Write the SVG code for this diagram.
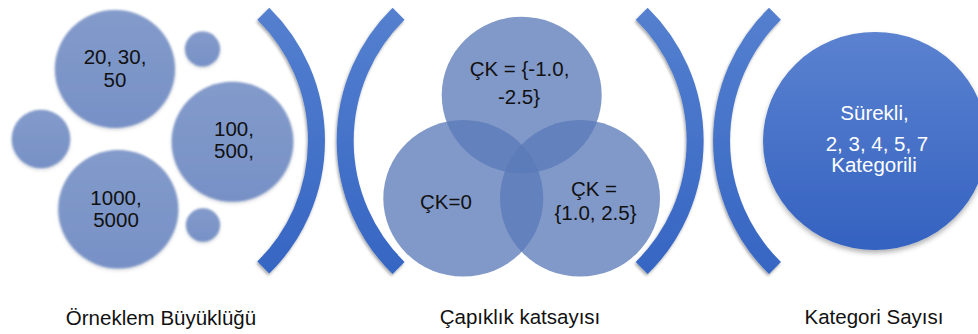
<svg xmlns="http://www.w3.org/2000/svg" width="978" height="334" viewBox="0 0 978 334">
  <style>
    text { font-family: "Liberation Sans", Arial, sans-serif; font-size: 20.5px; text-anchor: middle; }
    .dark { fill: #111111; }
    .light { fill: #ffffff; }
    .bubble { fill: url(#bubbleGrad); filter: url(#soft); }
    .venn { fill: #5a79b8; fill-opacity: 0.76; }
    .bracket { fill: none; stroke: url(#bracketGrad); stroke-width: 17; stroke-linecap: butt; filter: url(#shadow); }
    .caption { fill: #111111; font-size: 20.5px; }
  </style>
  <defs>
    <linearGradient id="bubbleGrad" x1="0" y1="0" x2="0" y2="1">
      <stop offset="0" stop-color="#839bcb"/>
      <stop offset="1" stop-color="#7791c6"/>
    </linearGradient>
    <linearGradient id="bracketGrad" gradientUnits="userSpaceOnUse" x1="0" y1="5" x2="0" y2="278">
      <stop offset="0" stop-color="#5580cf"/>
      <stop offset="1" stop-color="#3565c3"/>
    </linearGradient>
    <linearGradient id="bigGrad" x1="0" y1="0" x2="0" y2="1">
      <stop offset="0" stop-color="#5b82d0"/>
      <stop offset="1" stop-color="#3462c0"/>
    </linearGradient>
    <filter id="shadow" x="-30%" y="-10%" width="160%" height="120%">
      <feDropShadow dx="-1" dy="2" stdDeviation="1.8" flood-color="#000000" flood-opacity="0.35"/>
    </filter>
    <filter id="soft" x="-20%" y="-20%" width="140%" height="140%">
      <feGaussianBlur in="SourceGraphic" stdDeviation="0.8" result="b"/>
      <feDropShadow dx="0" dy="1.5" stdDeviation="1.5" flood-color="#000000" flood-opacity="0.2"/>
    </filter>
    <filter id="bigShadow" x="-10%" y="-10%" width="120%" height="125%">
      <feDropShadow dx="0" dy="3" stdDeviation="2.5" flood-color="#000000" flood-opacity="0.3"/>
    </filter>
  </defs>

  <!-- Section 1: Örneklem Büyüklüğü -->
  <g id="sample-size">
    <g id="n-small">
      <ellipse class="bubble" cx="115" cy="69" rx="60" ry="59"/>
      <text class="dark" x="115" y="64">20, 30,</text>
      <text class="dark" x="115" y="87">50</text>
    </g>
    <g id="dot-top-right"><ellipse class="bubble" cx="202.5" cy="49" rx="17.5" ry="17.5"/></g>
    <g id="dot-left"><ellipse class="bubble" cx="41" cy="139" rx="29.2" ry="29.2"/></g>
    <g id="n-medium">
      <ellipse class="bubble" cx="232.5" cy="141.7" rx="60.8" ry="60"/>
      <text class="dark" x="234" y="136">100,</text>
      <text class="dark" x="234" y="158">500,</text>
    </g>
    <g id="n-large">
      <ellipse class="bubble" cx="118.3" cy="209.2" rx="60" ry="59.2"/>
      <text class="dark" x="116" y="205">1000,</text>
      <text class="dark" x="116" y="227">5000</text>
    </g>
    <g id="dot-bottom-right"><ellipse class="bubble" cx="203" cy="225" rx="17" ry="16.7"/></g>
  </g>

  <!-- Section 2: Çapıklık katsayısı (Venn) -->
  <g id="skewness">
    <g id="ck-negative">
      <ellipse class="venn" cx="521.7" cy="95" rx="80" ry="78.3"/>
    </g>
    <g id="ck-zero">
      <ellipse class="venn" cx="463.3" cy="198.3" rx="80" ry="78.3"/>
    </g>
    <g id="ck-positive">
      <ellipse class="venn" cx="580" cy="198.3" rx="80" ry="78.3"/>
    </g>
    <text class="dark" x="519.5" y="76">ÇK = {-1.0,</text>
    <text class="dark" x="519" y="104">-2.5}</text>
    <text class="dark" x="446" y="208.5">ÇK=0</text>
    <text class="dark" x="594" y="196">ÇK =</text>
    <text class="dark" x="595.5" y="220">{1.0, 2.5}</text>
  </g>

  <!-- Section 3: Kategori Sayısı -->
  <g id="categories">
    <ellipse cx="875" cy="141" rx="112" ry="109" fill="url(#bigGrad)" filter="url(#bigShadow)"/>
    <text class="light" x="874.5" y="120">Sürekli,</text>
    <text class="light" x="877" y="150.7">2, 3, 4, 5, 7</text>
    <text class="light" x="874" y="172.3">Kategorili</text>
  </g>

  <!-- Brackets (connecting separators) -->
  <g id="connectors">
    <path class="bracket" d="M 263.3 13.7 A 178 178 0 0 1 263.3 267.5"/>
    <path class="bracket" d="M 398.6 13.7 A 178 178 0 0 0 398.6 268"/>
    <path class="bracket" d="M 641.7 13.7 A 178 178 0 0 1 641.7 268"/>
    <path class="bracket" d="M 775 13.7 A 178 178 0 0 0 775 268"/>
  </g>

  <!-- Captions -->
  <g id="captions">
    <text class="caption" x="161" y="324.5">Örneklem Büyüklüğü</text>
    <text class="caption" x="520" y="324">Çapıklık katsayısı</text>
    <text class="caption" x="874" y="324">Kategori Sayısı</text>
  </g>
</svg>
